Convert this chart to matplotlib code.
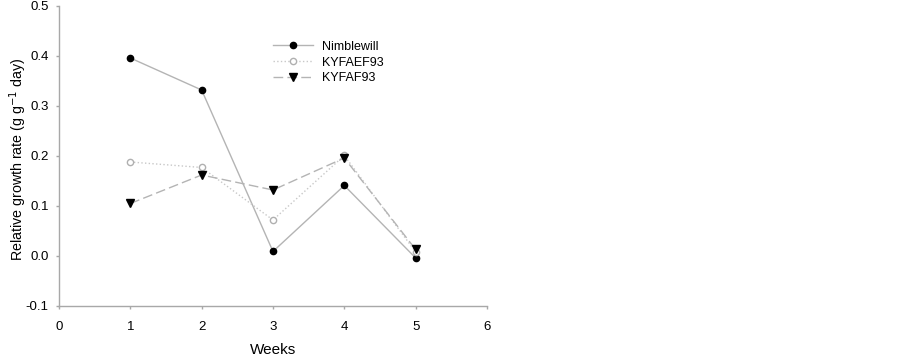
import matplotlib.pyplot as plt

plt.rcParams['font.family'] = ['Liberation Sans', 'DejaVu Sans']

weeks = [1, 2, 3, 4, 5]
nimblewill = [0.396, 0.332, 0.009, 0.141, -0.004]
kyfaef93 = [0.188, 0.177, 0.072, 0.201, 0.008]
kyfaf93 = [0.105, 0.162, 0.132, 0.196, 0.013]

grey = '#b4b4b4'
axis_grey = '#a8a8a8'


def make_plot():
    fig = plt.figure(figsize=(9.03, 3.57), dpi=100)
    ax = fig.add_axes([0.0653, 0.1429, 0.474, 0.8403])

    ax.plot(weeks, nimblewill, color=grey, linestyle='-', linewidth=1,
            marker='o', markersize=4.5, markerfacecolor='black', markeredgecolor='black',
            label='Nimblewill')
    ax.plot(weeks, kyfaef93, color='#c8c8c8', linestyle=':', linewidth=1,
            marker='o', markersize=4.5, markerfacecolor='white', markeredgecolor='#b0b0b0',
            label='KYFAEF93')
    ax.plot(weeks, kyfaf93, color=grey, linestyle=(0, (7, 3)), linewidth=1,
            marker='v', markersize=5.5, markerfacecolor='black', markeredgecolor='black',
            label='KYFAF93')

    ax.set_xlim(0, 6)
    ax.set_ylim(-0.1, 0.5)
    ax.set_xticks(range(0, 7))
    ax.set_yticks([-0.1, 0.0, 0.1, 0.2, 0.3, 0.4, 0.5])
    ax.set_yticklabels(['-0.1', '0.0', '0.1', '0.2', '0.3', '0.4', '0.5'])

    for side in ['top', 'right']:
        ax.spines[side].set_visible(False)
    for side in ['left', 'bottom']:
        ax.spines[side].set_color(axis_grey)
        ax.spines[side].set_linewidth(1)
    ax.tick_params(direction='out', length=2.5, width=1, color=axis_grey,
                   labelsize=9.5)
    ax.tick_params(axis='x', pad=8)
    ax.tick_params(axis='y', pad=5)

    ax.set_xlabel('Weeks', fontsize=11)
    ax.xaxis.set_label_coords(0.5, -0.125)
    ax.set_ylabel('Relative growth rate (g g$^{-1}$ day)', fontsize=10.3)
    ax.yaxis.set_label_coords(-0.071, 0.49)

    ax.legend(loc='upper left', bbox_to_anchor=(0.5, 0.884), frameon=False,
              fontsize=9, handlelength=3.2, handletextpad=0.7, labelspacing=0.3,
              borderpad=0, borderaxespad=0)

    fig.savefig('out.png', dpi=100)


if __name__ == "__main__":
    make_plot()
